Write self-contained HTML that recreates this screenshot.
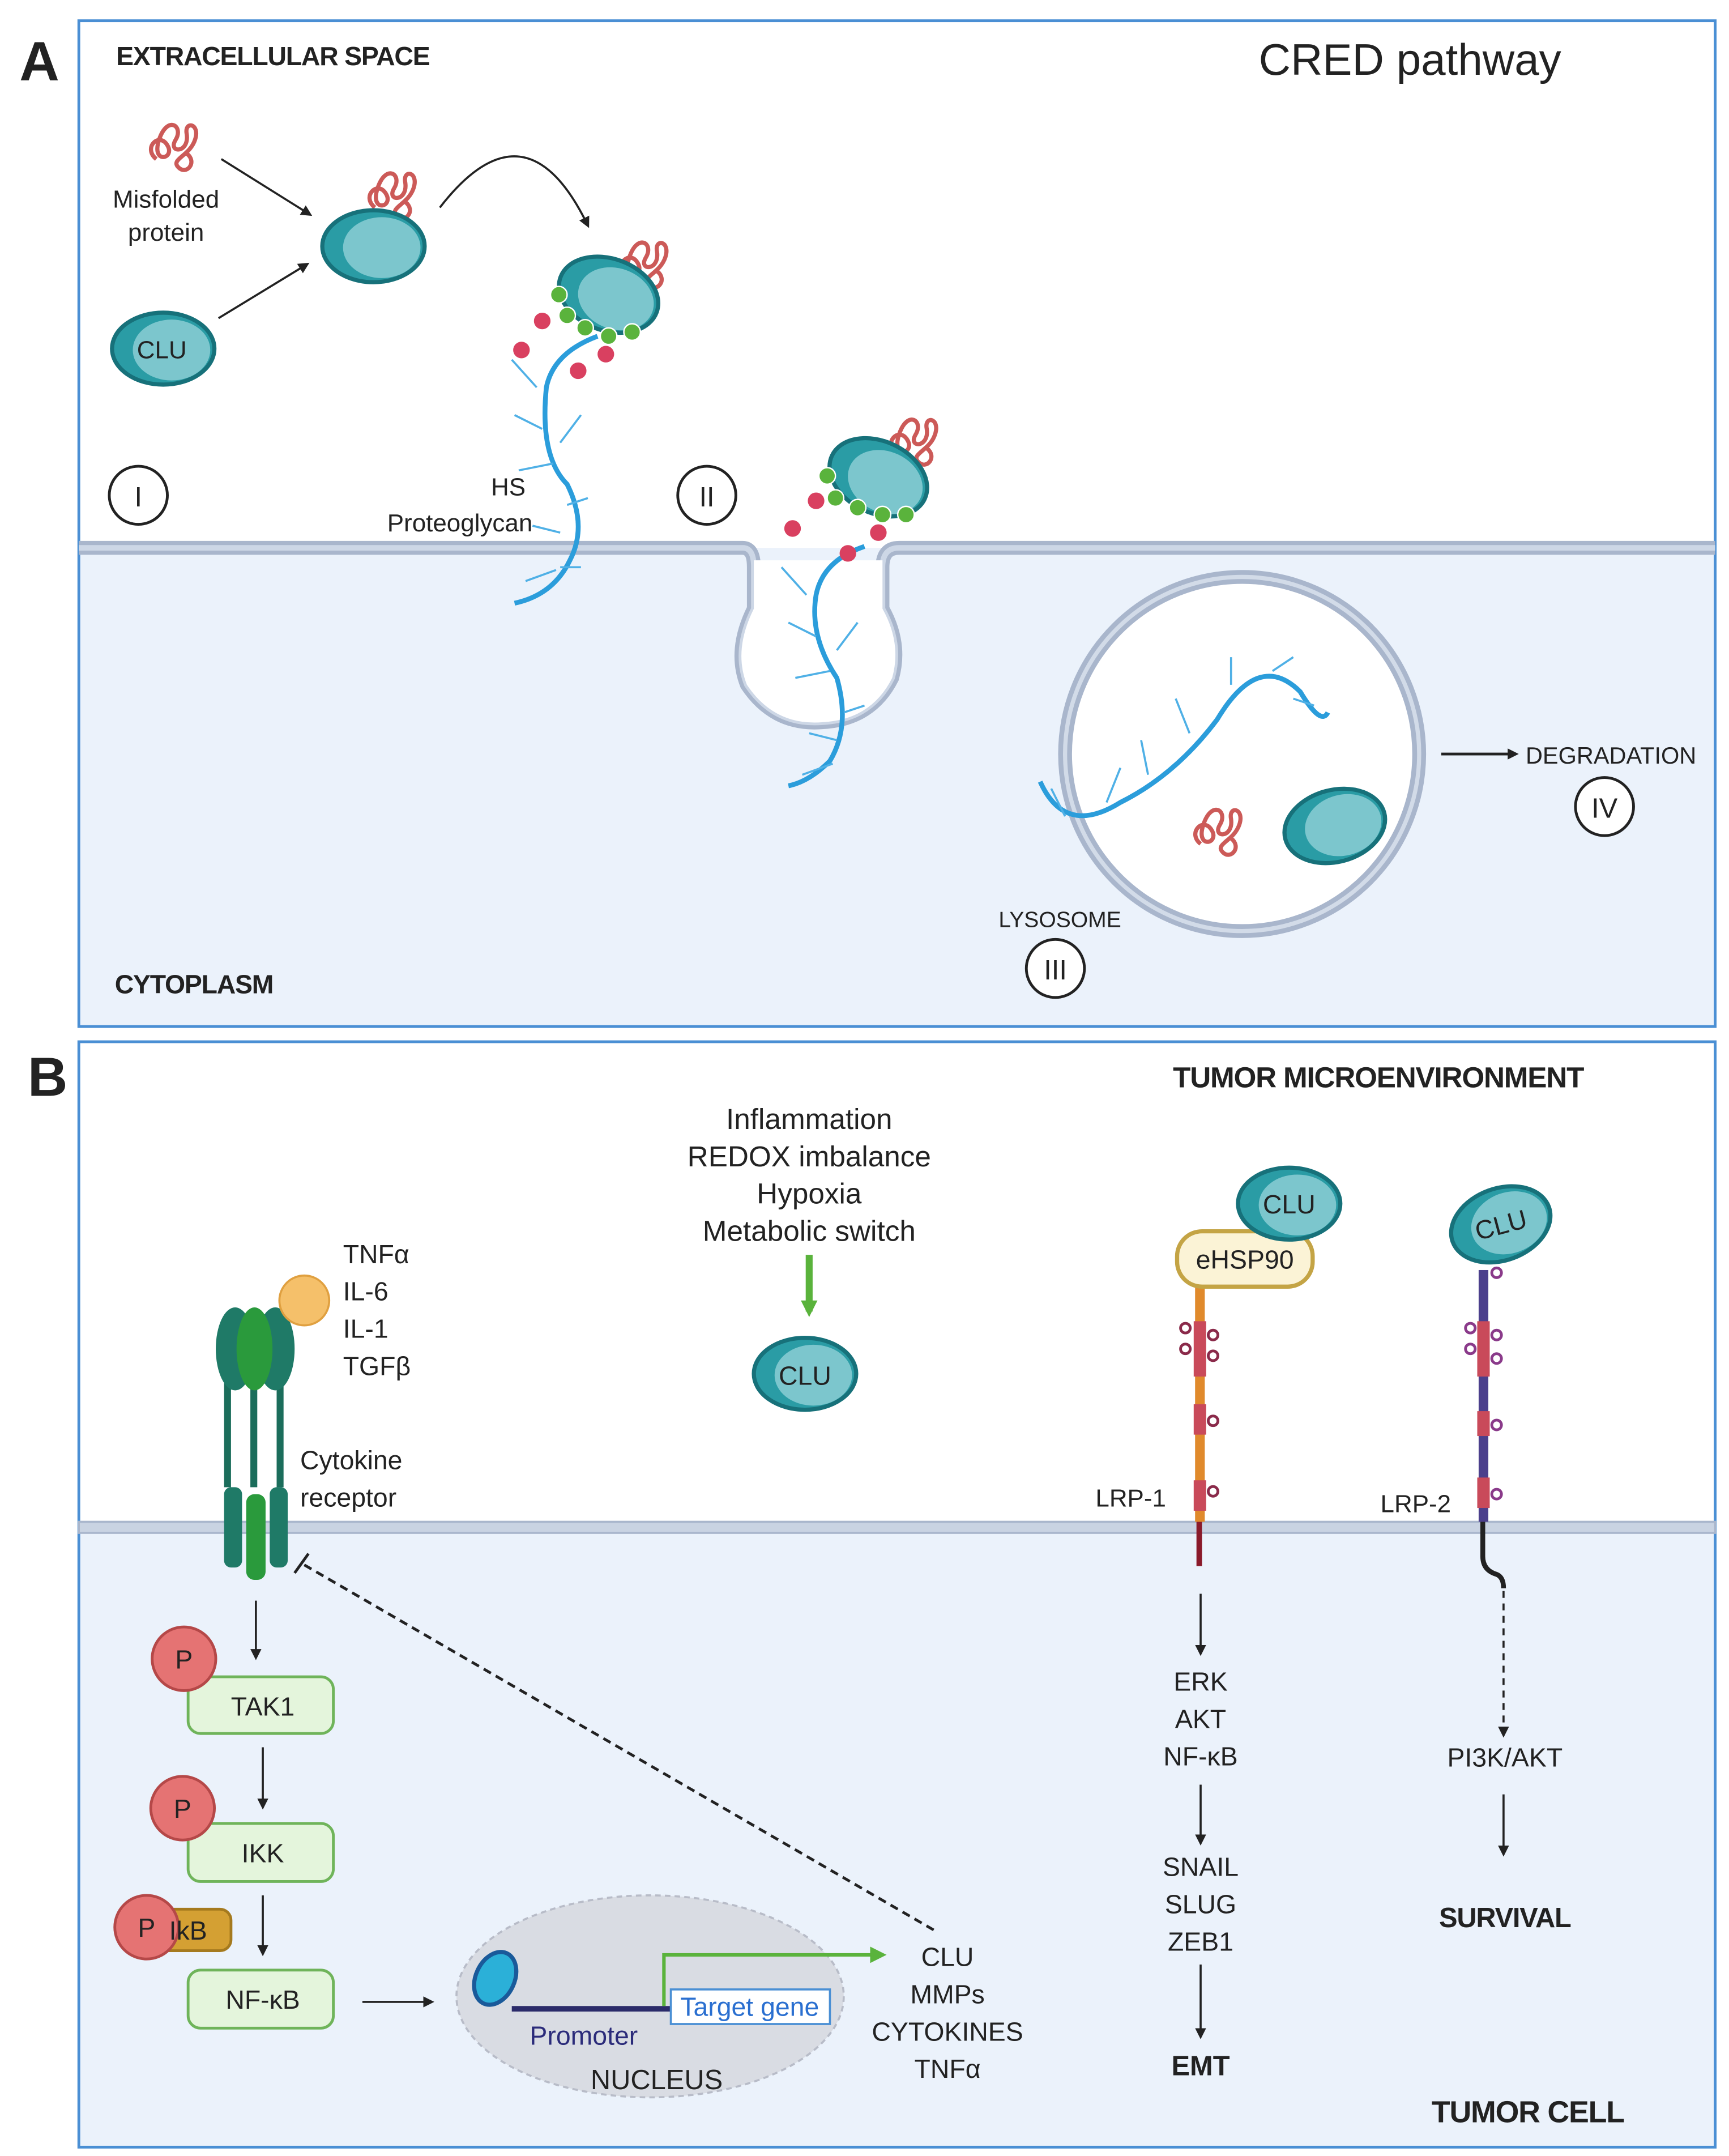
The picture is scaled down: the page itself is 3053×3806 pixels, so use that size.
<!DOCTYPE html>
<html><head><meta charset="utf-8"><style>
html,body{margin:0;padding:0;background:#fff}
svg{display:block}
text{font-family:"Liberation Sans",sans-serif;fill:#222}
.b{font-weight:bold}
</style></head><body>
<svg width="3053" height="3806" viewBox="0 0 1250 1558.4" preserveAspectRatio="none" xmlns="http://www.w3.org/2000/svg">
<defs>
<marker id="ar" markerWidth="8" markerHeight="8" refX="6" refY="4" orient="auto" markerUnits="userSpaceOnUse"><path d="M0,0 L8,4 L0,8 z" fill="#222"/></marker>
<marker id="ag" markerWidth="12" markerHeight="12" refX="8" refY="6" orient="auto" markerUnits="userSpaceOnUse"><path d="M0,0 L12,6 L0,12 z" fill="#5ab33c"/></marker>
<g id="clu"><ellipse cx="0" cy="0" rx="37" ry="26" fill="#2a9ca5" stroke="#17717a" stroke-width="3"/><ellipse cx="6" cy="1" rx="28" ry="22" fill="#7cc6cd"/></g>
<g id="mis"><path d="M-12,10 c-10,-8 2,-20 8,-10 c6,10 -12,14 -6,-4 c6,-18 18,-10 12,0 c-6,10 10,10 8,-4 c-2,-10 10,-8 6,4 c-4,12 -18,14 -12,20 c6,6 14,-4 6,-10" fill="none" stroke="#cc5a58" stroke-width="3"/></g>
</defs>
<!-- Panel A -->
<rect x="57" y="15" width="1183" height="381" fill="#fff" stroke="none"/>
<rect x="57" y="396" width="1183" height="346" fill="#ebf2fb"/>
<rect x="57" y="15" width="1183" height="727" fill="none" stroke="#4a8fd4" stroke-width="2"/>
<text x="14" y="58" class="b" font-size="40">A</text>
<text x="84" y="47" class="b" font-size="19" letter-spacing="-0.5">EXTRACELLULAR SPACE</text>
<text x="910" y="54" font-size="32">CRED pathway</text>
<!-- membrane with invagination -->
<path d="M57,396 H537 Q545,396 545,410 V440 Q530,470 540,495 Q560,525 595,522 Q630,520 645,490 Q652,465 638,440 V410 Q638,396 650,396 H1240" fill="none" stroke="#a9b6cc" stroke-width="10"/>
<path d="M57,396 H537 Q545,396 545,410 V440 Q530,470 540,495 Q560,525 595,522 Q630,520 645,490 Q652,465 638,440 V410 Q638,396 650,396 H1240" fill="none" stroke="#cdd7e6" stroke-width="4"/>
<path d="M545,405 V440 Q530,470 540,495 Q560,525 595,522 Q630,520 645,490 Q652,465 638,440 V405 Z" fill="#fff"/>
<!-- lysosome -->
<circle cx="898" cy="545" r="128" fill="#fff" stroke="#a9b6cc" stroke-width="10"/>
<circle cx="898" cy="545" r="128" fill="none" stroke="#d2dbe8" stroke-width="3"/>
<!-- misfolded & CLU -->
<g transform="translate(125,105)"><use href="#mis"/></g>
<text x="120" y="150" font-size="18" text-anchor="middle">Misfolded</text>
<text x="120" y="174" font-size="18" text-anchor="middle">protein</text>
<use href="#clu" transform="translate(118,252)"/>
<text x="117" y="259" font-size="18" text-anchor="middle">CLU</text>
<line x1="160" y1="115" x2="224" y2="155" stroke="#222" stroke-width="1.5" marker-end="url(#ar)"/>
<line x1="158" y1="230" x2="222" y2="191" stroke="#222" stroke-width="1.5" marker-end="url(#ar)"/>
<g transform="translate(283,140)"><use href="#mis"/></g>
<use href="#clu" transform="translate(270,178)"/>
<path d="M318,150 Q380,70 425,163" fill="none" stroke="#222" stroke-width="1.5" marker-end="url(#ar)"/>
<!-- HS proteoglycan 1 -->
<path d="M432,243 Q400,255 395,280 Q390,330 410,350 Q425,380 412,405 Q400,430 372,436" fill="none" stroke="#2b9ddb" stroke-width="3.5"/>
<path d="M370,260 l18,20 M372,300 l20,10 M375,340 l25,-5 M385,380 l20,5 M380,420 l22,-8 M420,300 l-15,20 M425,360 l-15,5 M420,410 l-15,0" stroke="#4fb0e6" stroke-width="1.5"/>
<g transform="translate(465,190)"><use href="#mis"/></g>
<use href="#clu" transform="translate(440,213) rotate(20)"/>
<g fill="#5ab33c" stroke="#fff" stroke-width="1"><circle cx="404" cy="213" r="6"/><circle cx="410" cy="228" r="6"/><circle cx="423" cy="237" r="6"/><circle cx="440" cy="243" r="6"/><circle cx="457" cy="240" r="6"/></g>
<g fill="#d94060"><circle cx="392" cy="232" r="6"/><circle cx="377" cy="253" r="6"/><circle cx="418" cy="268" r="6"/><circle cx="438" cy="256" r="6"/></g>
<text x="380" y="358" font-size="18" text-anchor="end">HS</text>
<text x="385" y="384" font-size="18" text-anchor="end">Proteoglycan</text>
<circle cx="100" cy="358" r="21" fill="#fff" stroke="#222" stroke-width="2"/><text x="100" y="366" font-size="20" text-anchor="middle">I</text>
<circle cx="511" cy="358" r="21" fill="#fff" stroke="#222" stroke-width="2"/><text x="511" y="366" font-size="20" text-anchor="middle">II</text>
<!-- HS 2 -->
<path d="M625,395 Q595,405 590,430 Q585,460 605,490 Q615,525 600,550 Q585,565 570,568" fill="none" stroke="#2b9ddb" stroke-width="3.5"/>
<path d="M565,410 l18,20 M570,450 l20,10 M575,490 l25,-5 M585,530 l20,5 M580,560 l22,-8 M620,450 l-15,20 M625,510 l-15,5" stroke="#4fb0e6" stroke-width="1.5"/>
<g transform="translate(660,318)"><use href="#mis"/></g>
<use href="#clu" transform="translate(635,345) rotate(25)"/>
<g fill="#5ab33c" stroke="#fff" stroke-width="1"><circle cx="598" cy="344" r="6"/><circle cx="604" cy="360" r="6"/><circle cx="620" cy="367" r="6"/><circle cx="638" cy="372" r="6"/><circle cx="655" cy="372" r="6"/></g>
<g fill="#d94060"><circle cx="590" cy="362" r="6"/><circle cx="573" cy="382" r="6"/><circle cx="613" cy="400" r="6"/><circle cx="635" cy="385" r="6"/></g>
<!-- lysosome contents -->
<path d="M752,565 Q770,605 810,580 Q850,560 880,520 Q910,470 940,500 Q955,525 960,515" fill="none" stroke="#2b9ddb" stroke-width="3.5"/>
<path d="M770,590 l-10,-20 M800,580 l10,-25 M830,560 l-5,-25 M860,530 l-10,-25 M890,495 l0,-20 M920,485 l15,-10 M935,505 l15,5" stroke="#4fb0e6" stroke-width="1.5"/>
<g transform="translate(880,600)"><use href="#mis"/></g>
<use href="#clu" transform="translate(965,597) rotate(-15)"/>
<text x="722" y="670" font-size="16">LYSOSOME</text>
<circle cx="763" cy="700" r="21" fill="#fff" stroke="#222" stroke-width="2"/><text x="763" y="708" font-size="20" text-anchor="middle">III</text>
<line x1="1042" y1="545" x2="1096" y2="545" stroke="#222" stroke-width="2" marker-end="url(#ar)"/>
<text x="1103" y="552" font-size="17">DEGRADATION</text>
<circle cx="1160" cy="583" r="21" fill="#fff" stroke="#222" stroke-width="2"/><text x="1160" y="591" font-size="20" text-anchor="middle">IV</text>
<text x="83" y="718" class="b" font-size="19" letter-spacing="-0.5">CYTOPLASM</text>

<!-- Panel B -->
<rect x="57" y="1104" width="1183" height="448" fill="#ebf2fb"/>
<rect x="57" y="753" width="1183" height="799" fill="none" stroke="#4a8fd4" stroke-width="2"/>
<rect x="57" y="1100" width="1183" height="8" fill="#c9d3e2" stroke="#a9b6cc" stroke-width="1.5"/>
<text x="20" y="792" class="b" font-size="40">B</text>
<text x="848" y="786" class="b" font-size="21" letter-spacing="-0.5">TUMOR MICROENVIRONMENT</text>
<g font-size="21" text-anchor="middle"><text x="585" y="816">Inflammation</text><text x="585" y="843">REDOX imbalance</text><text x="585" y="870">Hypoxia</text><text x="585" y="897">Metabolic switch</text></g>
<line x1="585" y1="907" x2="585" y2="948" stroke="#5ab33c" stroke-width="5" marker-end="url(#ag)"/>
<use href="#clu" transform="translate(582,993)"/>
<text x="582" y="1001" font-size="19" text-anchor="middle">CLU</text>
<!-- cytokine receptor -->
<g><rect x="162" y="975" width="5" height="100" fill="#1b6d5b"/><rect x="200" y="975" width="5" height="100" fill="#1b6d5b"/><rect x="181" y="975" width="5" height="100" fill="#1b6d5b"/>
<ellipse cx="170" cy="975" rx="14" ry="30" fill="#1f7a67"/><ellipse cx="199" cy="975" rx="14" ry="30" fill="#1f7a67"/><ellipse cx="184" cy="975" rx="13" ry="30" fill="#2a9a3c"/>
<rect x="162" y="1075" width="13" height="58" rx="5" fill="#1f7a67"/><rect x="195" y="1075" width="13" height="58" rx="5" fill="#1f7a67"/><rect x="178" y="1080" width="14" height="62" rx="6" fill="#2a9a3c"/></g>
<circle cx="220" cy="940" r="18" fill="#f5c06a" stroke="#e0a040" stroke-width="1.5"/>
<g font-size="19"><text x="248" y="913">TNFα</text><text x="248" y="940">IL-6</text><text x="248" y="967">IL-1</text><text x="248" y="994">TGFβ</text><text x="217" y="1062">Cytokine</text><text x="217" y="1089">receptor</text></g>
<g stroke="#222" stroke-width="1.5" fill="none">
<line x1="185" y1="1157" x2="185" y2="1198" marker-end="url(#ar)"/>
<line x1="190" y1="1263" x2="190" y2="1306" marker-end="url(#ar)"/>
<line x1="190" y1="1370" x2="190" y2="1412" marker-end="url(#ar)"/>
<line x1="262" y1="1447" x2="312" y2="1447" marker-end="url(#ar)"/>
</g>
<g fill="#e4f5dc" stroke="#6fb45a" stroke-width="2"><rect x="136" y="1212" width="105" height="41" rx="9"/><rect x="136" y="1318" width="105" height="42" rx="9"/><rect x="136" y="1424" width="105" height="42" rx="9"/></g>
<rect x="105" y="1380" width="62" height="30" rx="8" fill="#d4a033" stroke="#a57a1e" stroke-width="2"/>
<g fill="#e57373" stroke="#b54848" stroke-width="2"><circle cx="133" cy="1199" r="23"/><circle cx="132" cy="1307" r="23"/><circle cx="106" cy="1393" r="23"/></g>
<g font-size="19" text-anchor="middle"><text x="190" y="1240">TAK1</text><text x="190" y="1346">IKK</text><text x="190" y="1452">NF-κB</text><text x="136" y="1402">IkB</text>
<text x="133" y="1206">P</text><text x="132" y="1314">P</text><text x="106" y="1400">P</text></g>
<!-- nucleus -->
<ellipse cx="470" cy="1443" rx="140" ry="73" fill="#d9dce3" stroke="#b8bcc8" stroke-width="1.5" stroke-dasharray="4,3"/>
<ellipse cx="358" cy="1430" rx="14" ry="20" fill="#2bb0d8" stroke="#1a5a9a" stroke-width="3" transform="rotate(25 358 1430)"/>
<line x1="370" y1="1452" x2="485" y2="1452" stroke="#2b2b6a" stroke-width="4"/>
<polyline points="480,1450 480,1413 637,1413" fill="none" stroke="#5ab33c" stroke-width="2.5" marker-end="url(#ag)"/>
<rect x="485" y="1438" width="115" height="25" fill="#fff" stroke="#4a8fd4" stroke-width="1.5"/>
<text x="542" y="1457" font-size="19" text-anchor="middle" style="fill:#2a6fd0">Target gene</text>
<text x="383" y="1478" font-size="19" style="fill:#2b2b7a">Promoter</text>
<text x="427" y="1510" font-size="20">NUCLEUS</text>
<g font-size="19" text-anchor="middle"><text x="685" y="1421">CLU</text><text x="685" y="1448">MMPs</text><text x="685" y="1475">CYTOKINES</text><text x="685" y="1502">TNFα</text></g>
<line x1="675" y1="1395" x2="218" y2="1130" stroke="#222" stroke-width="2" stroke-dasharray="6,4"/>
<line x1="213" y1="1137" x2="223" y2="1123" stroke="#222" stroke-width="2"/>
<!-- LRP-1 -->
<rect x="864" y="925" width="7" height="175" fill="#e08a2c"/>
<g fill="#c94a5a"><rect x="863" y="955" width="9" height="40"/><rect x="863" y="1015" width="9" height="22"/><rect x="863" y="1070" width="9" height="22"/></g>
<rect x="865" y="1100" width="4" height="32" fill="#8a1a2a"/>
<g fill="none" stroke="#8a2a4a" stroke-width="2"><circle cx="857" cy="960" r="3.5"/><circle cx="857" cy="975" r="3.5"/><circle cx="877" cy="965" r="3.5"/><circle cx="877" cy="980" r="3.5"/><circle cx="877" cy="1027" r="3.5"/><circle cx="877" cy="1078" r="3.5"/></g>
<rect x="851" y="890" width="98" height="40" rx="18" fill="#fbf3d6" stroke="#c4a445" stroke-width="3"/>
<text x="900" y="917" font-size="19" text-anchor="middle">eHSP90</text>
<use href="#clu" transform="translate(932,870)"/>
<text x="932" y="877" font-size="19" text-anchor="middle">CLU</text>
<text x="792" y="1089" font-size="18">LRP-1</text>
<!-- LRP-2 -->
<rect x="1069" y="918" width="7" height="182" fill="#4b3f8c"/>
<g fill="#c94a5a"><rect x="1068" y="955" width="9" height="40"/><rect x="1068" y="1020" width="9" height="18"/><rect x="1068" y="1068" width="9" height="22"/></g>
<path d="M1072,1100 V1125 Q1072,1135 1082,1138 Q1087,1140 1087,1148" fill="none" stroke="#222" stroke-width="3.5"/>
<g fill="none" stroke="#8a3a8a" stroke-width="2"><circle cx="1063" cy="960" r="3.5"/><circle cx="1063" cy="975" r="3.5"/><circle cx="1082" cy="965" r="3.5"/><circle cx="1082" cy="982" r="3.5"/><circle cx="1082" cy="1030" r="3.5"/><circle cx="1082" cy="1080" r="3.5"/><circle cx="1082" cy="920" r="3.5"/></g>
<use href="#clu" transform="translate(1085,885) rotate(-20)"/>
<text x="1085" y="892" font-size="19" text-anchor="middle" transform="rotate(-15 1085 885)">CLU</text>
<text x="998" y="1093" font-size="18">LRP-2</text>
<g stroke="#222" stroke-width="1.5" fill="none">
<line x1="868" y1="1152" x2="868" y2="1195" marker-end="url(#ar)"/>
<line x1="868" y1="1290" x2="868" y2="1332" marker-end="url(#ar)"/>
<line x1="868" y1="1420" x2="868" y2="1472" marker-end="url(#ar)"/>
<line x1="1087" y1="1150" x2="1087" y2="1254" stroke-dasharray="5,4" marker-end="url(#ar)"/>
<line x1="1087" y1="1297" x2="1087" y2="1340" marker-end="url(#ar)"/>
</g>
<g font-size="19" text-anchor="middle"><text x="868" y="1222">ERK</text><text x="868" y="1249">AKT</text><text x="868" y="1276">NF-κB</text><text x="868" y="1356">SNAIL</text><text x="868" y="1383">SLUG</text><text x="868" y="1410">ZEB1</text><text x="1088" y="1277">PI3K/AKT</text></g>
<text x="868" y="1500" class="b" font-size="20" text-anchor="middle">EMT</text>
<text x="1088" y="1393" class="b" font-size="20" text-anchor="middle" letter-spacing="-0.5">SURVIVAL</text>
<text x="1035" y="1534" class="b" font-size="22" letter-spacing="-0.5">TUMOR CELL</text>
</svg>
</body></html>
